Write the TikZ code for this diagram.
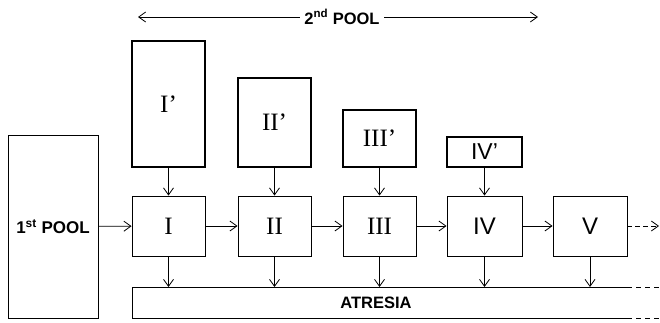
\documentclass[tikz,border=0pt]{standalone}
\usepackage{fontspec}
\setmainfont{Liberation Serif}
\setsansfont{Liberation Sans}
\usetikzlibrary{arrows.meta}
\begin{document}
\begin{tikzpicture}[x=1pt,y=-1pt,
  box/.style={draw,line width=0.9pt,inner sep=0pt,font=\fontsize{25}{25}\selectfont},
  pbox/.style={box,line width=1.4pt},
  barb/.tip={Straight Barb[length=7pt,width=10pt,line width=0.8pt]},
  flow/.style={line width=0.8pt,-barb},
  lbl/.style={font=\sffamily\bfseries\fontsize{16.5}{16.5}\selectfont}]
\useasboundingbox (0,0) rectangle (660,322);
% first pool
\node[box,minimum width=90pt,minimum height=183pt] (pool) at (53,226.5) {};
\node[lbl,font=\sffamily\bfseries\fontsize{17}{17}\selectfont] at (pool.center) {1\textsuperscript{st} POOL};
% second-pool reserve boxes
\node[pbox,minimum width=73pt,minimum height=126pt] (Ip) at (168.5,104) {I’};
\node[pbox,minimum width=73pt,minimum height=89pt] (IIp) at (274.5,122.5) {II’};
\node[pbox,minimum width=73pt,minimum height=57pt] (IIIp) at (379.5,138.5) {III’};
\node[pbox,line width=2pt,minimum width=75pt,minimum height=30pt,font=\sffamily\fontsize{23}{23}\selectfont] (IVp) at (484.5,152) {IV’};
% main chain of stages
\node[box,minimum width=73pt,minimum height=60pt] (I) at (168.5,226) {I};
\node[box,minimum width=73pt,minimum height=60pt] (II) at (274.5,226) {II};
\node[box,minimum width=73pt,minimum height=60pt] (III) at (379.5,226) {III};
\node[box,minimum width=75pt,minimum height=60pt,font=\sffamily\fontsize{24}{24}\selectfont] (IV) at (484.5,226) {IV};
\node[box,minimum width=74pt,minimum height=60pt,font=\sffamily\fontsize{24}{24}\selectfont] (V) at (590,226) {V};
% atresia bar, open towards the right
\coordinate (atl) at (132,287);
\coordinate (abl) at (132,318);
\coordinate (atr) at (627,287);
\coordinate (abr) at (627,318);
\coordinate (ate) at (660,287);
\coordinate (abe) at (660,318);
\draw[line width=0.9pt] (atr) -- (atl) -- (abl) -- (abr);
\draw[line width=0.9pt,dashed,dash pattern=on 5pt off 4pt] (atr) -- (ate) (abr) -- (abe);
\node[lbl] (atresia) at (376,303) {ATRESIA};
% arrows along the chain
\draw[flow] (pool) -- (I);
\draw[flow] (I) -- (II);
\draw[flow] (II) -- (III);
\draw[flow] (III) -- (IV);
\draw[flow] (IV) -- (V);
\coordinate (out) at (659,226);
\draw[flow,dashed,dash pattern=on 5pt off 3pt] (V) -- (out);
% arrows from reserve boxes
\foreach \a/\b in {Ip/I,IIp/II,IIIp/III,IVp/IV}
  \draw[flow] (\a.south) -- (\b.north);
% arrows into atresia
\foreach \a in {I,II,III,IV,V}
  \draw[flow] (\a.south) -- (\a.south |- atl);
% extent of the second pool
\coordinate (pl) at (138,17);
\coordinate (pr) at (538,17);
\draw[flow,barb-barb] (pl) -- (pr);
\node[lbl,fill=white,inner xsep=4pt] (pool2) at (342,17) {2\textsuperscript{nd} POOL};
\end{tikzpicture}
\end{document}
